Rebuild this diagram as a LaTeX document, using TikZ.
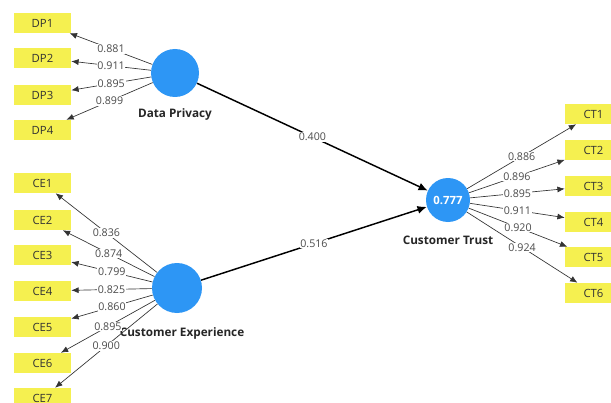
\documentclass[tikz,border=0pt]{standalone}
\usepackage{fontspec}
\setmainfont{Open Sans}
\usetikzlibrary{arrows.meta}
\definecolor{indy}{RGB}{245,240,80}
\definecolor{lvb}{RGB}{45,150,245}
\definecolor{labg}{RGB}{75,75,75}
\begin{document}
\begin{tikzpicture}[x=0.75pt,y=-0.75pt,
  indbox/.style={fill=indy, minimum width=42.75pt, minimum height=15pt, inner sep=0pt,
    font=\fontsize{8.5}{10}\selectfont, text=black!80},
  lvc/.style={circle, fill=lvb, inner sep=0pt, minimum size=#1},
  lvname/.style={font=\fontsize{8.8}{10}\selectfont\bfseries, text=black!85},
  load/.style={draw=black!80, line width=0.5pt, -{Latex[length=5.5pt,width=4.5pt]}},
  pathar/.style={draw=black, line width=1.1pt, -{Latex[length=7pt,width=6pt]}},
  lbl/.style={fill=white, inner sep=0.6pt, text=labg, font=\fontsize{8}{9}\selectfont}
]
\clip (0,0) rectangle (611,403);
\fill[white] (0,0) rectangle (611,403);

% latent variables
\node[lvc=36pt] (dp) at (175,73) {};
\node[lvname] (dpl) at (175,114) {Data Privacy};
\node[lvc=37.5pt] (ce) at (177,288) {};
\node[lvname] (cel) at (182,333) {Customer Experience};
\node[lvc=33pt, text=white, font=\fontsize{8.5}{10}\selectfont\bfseries] (ct) at (448,200) {0.777};
\node[lvname] (ctl) at (448,240) {Customer Trust};

% indicators
\node[indbox] (dp1) at (42.5,23) {DP1};
\node[indbox] (dp2) at (42.5,58) {DP2};
\node[indbox] (dp3) at (42.5,95) {DP3};
\node[indbox] (dp4) at (42.5,130) {DP4};

\node[indbox] (ce1) at (42.5,183) {CE1};
\node[indbox] (ce2) at (42.5,220) {CE2};
\node[indbox] (ce3) at (42.5,255) {CE3};
\node[indbox] (ce4) at (42.5,291) {CE4};
\node[indbox] (ce5) at (42.5,327) {CE5};
\node[indbox] (ce6) at (42.5,363) {CE6};
\node[indbox] (ce7) at (42.5,398) {CE7};

\node[indbox] (ct1) at (593.5,114) {CT1};
\node[indbox] (ct2) at (593.5,150) {CT2};
\node[indbox] (ct3) at (593.5,186) {CT3};
\node[indbox] (ct4) at (593.5,222) {CT4};
\node[indbox] (ct5) at (593.5,257) {CT5};
\node[indbox] (ct6) at (593.5,293) {CT6};

% loadings
\draw[load] (dp) -- node[lbl]{0.881} (dp1);
\draw[load] (dp) -- node[lbl]{0.911} (dp2);
\draw[load] (dp) -- node[lbl]{0.895} (dp3);
\draw[load] (dp) -- node[lbl]{0.899} (dp4);

\draw[load] (ce) -- node[lbl]{0.836} (ce1);
\draw[load] (ce) -- node[lbl]{0.874} (ce2);
\draw[load] (ce) -- node[lbl]{0.799} (ce3);
\draw[load] (ce) -- node[lbl]{0.825} (ce4);
\draw[load] (ce) -- node[lbl]{0.860} (ce5);
\draw[load] (ce) -- node[lbl]{0.895} (ce6);
\draw[load] (ce) -- node[lbl]{0.900} (ce7);

\draw[load] (ct) -- node[lbl]{0.886} (ct1);
\draw[load] (ct) -- node[lbl]{0.896} (ct2);
\draw[load] (ct) -- node[lbl]{0.895} (ct3);
\draw[load] (ct) -- node[lbl]{0.911} (ct4);
\draw[load] (ct) -- node[lbl]{0.920} (ct5);
\draw[load] (ct) -- node[lbl]{0.924} (ct6);

% structural paths
\draw[pathar] (dp) -- node[lbl]{0.400} (ct);
\draw[pathar] (ce) -- node[lbl]{0.516} (ct);
\end{tikzpicture}
\end{document}
